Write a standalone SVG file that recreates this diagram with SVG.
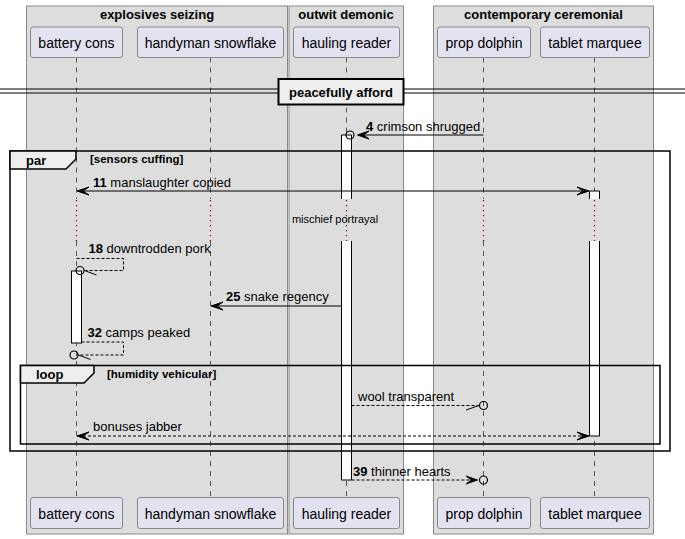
<svg xmlns="http://www.w3.org/2000/svg" width="685" height="539" viewBox="0 0 685 539">
<style>
text{font-family:"Liberation Sans",Arial,sans-serif;fill:#000}
.box{fill:#dddddd;stroke:#888888;stroke-width:1}
.btitle{font-size:13px;font-weight:bold;text-anchor:middle}
.part rect{fill:#e2e2f0;stroke:#888888;stroke-width:1}
.part text{font-size:14px;text-anchor:middle}
.life{stroke:#555555;stroke-width:1;stroke-dasharray:5,5;fill:none}
.delay{stroke:#a80036;stroke-width:1.3;stroke-dasharray:1.3,3.7;fill:none}
.actf{fill:#ffffff;stroke:none}
.acts{fill:none;stroke:#000;stroke-width:1}
.frame{fill:none;stroke:#000;stroke-width:1.5}
.tab{fill:#eeeeee;stroke:#000;stroke-width:1.5}
.ftitle{font-size:13px;font-weight:bold}
.fcond{font-size:11.5px;font-weight:bold}
.msg{stroke:#000;stroke-width:1;fill:none}
.dash{stroke-dasharray:3,2}
.head{fill:#000;stroke:#000;stroke-width:1}
.circ{fill:none;stroke:#000;stroke-width:1.2}
.lbl{font-size:13px}
.num{font-weight:bold}
</style>
<rect x="0" y="0" width="685" height="539" fill="#ffffff"/>

<g id="box-explosives-seizing">
<rect class="box" x="26.5" y="6" width="261" height="528"/>
<text class="btitle" x="157" y="19">explosives seizing</text>
</g>
<g id="box-outwit-demonic">
<rect class="box" x="289" y="6" width="114.5" height="528"/>
<text class="btitle" x="346" y="19">outwit demonic</text>
</g>
<g id="box-contemporary-ceremonial">
<rect class="box" x="433.5" y="6" width="220" height="528"/>
<text class="btitle" x="543.5" y="19">contemporary ceremonial</text>
</g>

<g id="lifelines">
<path class="life" d="M76.5,57.5V199M76.5,241V497.5"/>
<path class="life" d="M210.5,57.5V199M210.5,241V497.5"/>
<path class="life" d="M346.5,57.5V199M346.5,241V497.5"/>
<path class="life" d="M483.5,57.5V199M483.5,241V497.5"/>
<path class="life" d="M594.5,57.5V199M594.5,241V497.5"/>
<path class="delay" d="M76.5,200V241M210.5,200V241M346.5,200V241M483.5,200V241M594.5,200V241"/>
</g>

<g id="battery-cons" class="part">
<rect x="30.5" y="27" width="92" height="30.5" rx="2.5"/>
<text x="76.5" y="47.5">battery cons</text>
<rect x="30.5" y="497.5" width="92" height="31" rx="2.5"/>
<text x="76.5" y="518.5">battery cons</text>
</g>
<g id="handyman-snowflake" class="part">
<rect x="137.5" y="27" width="146" height="30.5" rx="2.5"/>
<text x="210.5" y="47.5">handyman snowflake</text>
<rect x="137.5" y="497.5" width="146" height="31" rx="2.5"/>
<text x="210.5" y="518.5">handyman snowflake</text>
</g>
<g id="hauling-reader" class="part">
<rect x="293.5" y="27" width="106" height="30.5" rx="2.5"/>
<text x="346.5" y="47.5">hauling reader</text>
<rect x="293.5" y="497.5" width="106" height="31" rx="2.5"/>
<text x="346.5" y="518.5">hauling reader</text>
</g>
<g id="prop-dolphin" class="part">
<rect x="437.5" y="27" width="93" height="30.5" rx="2.5"/>
<text x="484" y="47.5">prop dolphin</text>
<rect x="437.5" y="497.5" width="93" height="31" rx="2.5"/>
<text x="484" y="518.5">prop dolphin</text>
</g>
<g id="tablet-marquee" class="part">
<rect x="540.5" y="27" width="109" height="30.5" rx="2.5"/>
<text x="595" y="47.5">tablet marquee</text>
<rect x="540.5" y="497.5" width="109" height="31" rx="2.5"/>
<text x="595" y="518.5">tablet marquee</text>
</g>

<g id="activations">
<rect class="actf" x="341.5" y="135" width="10" height="64"/>
<rect class="actf" x="341.5" y="241" width="10" height="239"/>
<path class="acts" d="M341.5,199V135H351.5V199M341.5,241V480H351.5V241"/>
<rect class="actf" x="589.5" y="191" width="10" height="8"/>
<rect class="actf" x="589.5" y="241" width="10" height="195"/>
<path class="acts" d="M589.5,199V191H599.5V199M589.5,241V436H599.5V241"/>
<rect x="71.5" y="271" width="10" height="72" fill="#ffffff" stroke="#000" stroke-width="1"/>
</g>

<g id="divider">
<path d="M0,89H685M0,93H685" stroke="#000" stroke-width="1"/>
<rect x="278.5" y="79" width="125" height="25.5" fill="#eeeeee" stroke="#000" stroke-width="2"/>
<text class="ftitle" x="341" y="97" text-anchor="middle">peacefully afford</text>
</g>

<g id="note-delay">
<text x="335" y="223" font-size="11" text-anchor="middle">mischief portrayal</text>
</g>

<g id="frames">
<rect class="frame" x="10" y="151" width="660" height="300"/>
<path class="tab" d="M10,151H76V159L66,169H10Z"/>
<text class="ftitle" x="26" y="164.5">par</text>
<text class="fcond" x="90" y="162.5">[sensors cuffing]</text>
<rect class="frame" x="20.5" y="365.5" width="639.5" height="78.5"/>
<path class="tab" d="M20.5,365.5H94V373L84,383H20.5Z"/>
<text class="ftitle" x="36" y="378.5">loop</text>
<text class="fcond" x="107" y="377.5">[humidity vehicular]</text>
</g>

<g id="connectors">
<path class="msg" d="M483.5,135H358"/>
<polygon class="head" points="357.5,135 369,131 363.5,135 369,139"/>
<circle class="circ" cx="350" cy="135" r="4"/>
<text class="lbl" x="366" y="131"><tspan class="num">4</tspan> crimson shrugged</text>

<path class="msg" d="M78,191H588"/>
<polygon class="head" points="77,191 89,187 83,191 89,195"/>
<polygon class="head" points="589,191 577,187 583,191 577,195"/>
<text class="lbl" x="93" y="186.5"><tspan class="num">11</tspan> manslaughter copied</text>

<path class="msg dash" d="M76.5,258.5H123.5V270.5H84"/>
<path class="msg" d="M84.5,270.5L96.5,275"/>
<circle class="circ" cx="80" cy="270.5" r="4"/>
<text class="lbl" x="88.5" y="253"><tspan class="num">18</tspan> downtrodden pork</text>

<path class="msg" d="M341.5,306H212"/>
<polygon class="head" points="211,306 223,302 217,306 223,310"/>
<text class="lbl" x="226" y="301"><tspan class="num">25</tspan> snake regency</text>

<path class="msg dash" d="M81.5,342H123.5V355H78"/>
<path class="msg" d="M78.5,355L90.5,359.5"/>
<circle class="circ" cx="74" cy="355" r="4"/>
<text class="lbl" x="87.5" y="337"><tspan class="num">32</tspan> camps peaked</text>

<path class="msg dash" d="M351.5,405.5H479"/>
<path class="msg" d="M479,405.5L466,410"/>
<circle class="circ" cx="483.5" cy="405.5" r="4"/>
<text class="lbl" x="358" y="400.5">wool transparent</text>

<path class="msg dash" d="M78,436H588"/>
<polygon class="head" points="77,436 89,432 83,436 89,440"/>
<polygon class="head" points="589,436 577,432 583,436 577,440"/>
<text class="lbl" x="93" y="430.5">bonuses jabber</text>

<path class="msg dash" d="M351.5,480H476"/>
<polygon class="head" points="477.5,480 466,476 471.5,480 466,484"/>
<circle class="circ" cx="483.5" cy="480" r="4"/>
<text class="lbl" x="353" y="475.5"><tspan class="num">39</tspan> thinner hearts</text>
</g>
</svg>
